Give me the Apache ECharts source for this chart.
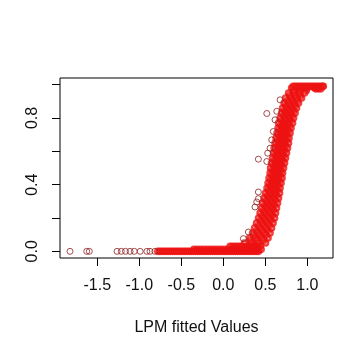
<!DOCTYPE html>
<html>
<head>
<meta charset="utf-8">
<script src="https://cdn.jsdelivr.net/npm/echarts@6/dist/echarts.min.js"></script>
<style>html,body{margin:0;padding:0;background:#fff;}#c{width:356px;height:356px;}</style>
</head>
<body>
<div id="c"></div>
<script>
// Dense band of points, read as strands across the band at given y levels
var yLevels = [0.98,0.95,0.92,0.89,0.86,0.83,0.80,0.77,0.74,0.71,0.68,0.65,0.62,0.59,0.56,0.53,0.50,0.47,0.44,0.41,0.38,0.35,0.32,0.29,0.26,0.23,0.20,0.17,0.14,0.11,0.08,0.05];
var xLeft  = [0.812,0.776,0.740,0.723,0.705,0.693,0.675,0.657,0.651,0.639,0.627,0.615,0.604,0.598,0.586,0.574,0.562,0.556,0.544,0.532,0.520,0.502,0.485,0.467,0.455,0.437,0.419,0.395,0.371,0.348,0.312,0.252];
var xMidL  = [0.903,0.840,0.804,0.780,0.760,0.747,0.729,0.713,0.703,0.691,0.679,0.669,0.657,0.649,0.637,0.626,0.614,0.606,0.596,0.584,0.572,0.558,0.542,0.526,0.514,0.498,0.483,0.461,0.439,0.417,0.385,0.335];
var xMidR  = [0.995,0.903,0.867,0.838,0.816,0.800,0.782,0.768,0.754,0.742,0.730,0.722,0.711,0.701,0.689,0.677,0.665,0.655,0.647,0.635,0.623,0.613,0.600,0.586,0.574,0.560,0.546,0.526,0.506,0.487,0.459,0.419];
var xRight = [1.086,0.967,0.931,0.895,0.871,0.854,0.836,0.824,0.806,0.794,0.782,0.776,0.764,0.752,0.740,0.729,0.717,0.705,0.699,0.687,0.675,0.669,0.657,0.645,0.633,0.621,0.610,0.592,0.574,0.556,0.532,0.502];

// second, staggered set of levels inside the band
var yLevels2 = [0.965,0.935,0.905,0.875,0.845,0.815,0.785,0.755,0.725,0.695,0.665,0.635,0.605,0.575,0.545,0.515,0.485,0.455,0.425,0.395,0.365,0.335,0.305,0.275,0.245,0.215,0.185,0.155,0.125,0.095,0.065];
var xInA = [0.833,0.790,0.762,0.742,0.726,0.711,0.693,0.681,0.671,0.659,0.647,0.637,0.627,0.618,0.606,0.594,0.584,0.575,0.564,0.552,0.538,0.522,0.505,0.491,0.476,0.459,0.439,0.416,0.394,0.366,0.321];
var xInB = [0.911,0.854,0.822,0.799,0.781,0.765,0.748,0.735,0.723,0.711,0.700,0.690,0.680,0.669,0.658,0.646,0.635,0.626,0.616,0.604,0.592,0.578,0.564,0.550,0.537,0.522,0.504,0.483,0.462,0.437,0.400];
var xInC = [0.988,0.917,0.883,0.855,0.836,0.818,0.803,0.788,0.774,0.762,0.753,0.743,0.732,0.720,0.709,0.697,0.686,0.677,0.667,0.655,0.645,0.635,0.622,0.609,0.597,0.585,0.569,0.550,0.531,0.508,0.478];

// top plateau rows
var topRowY = 0.99;
var topRowX = [0.83,0.855,0.88,0.905,0.93,0.955,0.98,1.005,1.03,1.055,1.08,1.105,1.13,1.155,1.18,1.19];
var topRow2Y = 0.975;
var topRow2X = [1.10,1.13,1.16];

// bottom tail rows
var bottomRow0Y = 0.0;
var bottomRow0X = [-0.78,-0.755,-0.73,-0.705,-0.68,-0.655,-0.63,-0.605,-0.58,-0.555,-0.53,-0.505,-0.48,-0.455,-0.43,-0.405,-0.38,-0.355,-0.33,-0.305,-0.28,-0.255,-0.23,-0.205,-0.18,-0.155,-0.13,-0.105,-0.08,-0.055,-0.03,-0.005,0.02,0.045,0.07,0.095,0.12,0.145,0.17,0.195,0.22,0.245,0.27,0.295,0.32,0.345,0.37,0.395,0.42];
var bottomRow1Y = 0.012;
var bottomRow1X = [-0.35,-0.31,-0.27,-0.23,-0.19,-0.15,-0.11,-0.07,-0.03,0.01,0.05,0.09,0.13,0.17,0.21,0.25,0.29,0.33,0.37,0.41,0.45];
var bottomRow2Y = 0.03;
var bottomRow2X = [0.08,0.11,0.14,0.17,0.20,0.23,0.26,0.29,0.32,0.35,0.38,0.41,0.44];

// isolated points
var outX = [-1.825,-1.626,-1.595,-1.265,-1.215,-1.165,-1.11,-1.06,-0.99,-0.91,-0.873,-0.815,0.517,0.417,0.675,0.636,0.615,0.595,0.576,0.556,0.528,0.517,0.417,0.397,0.377,0.417,0.238,0.298];
var outY = [0,0,0,0,0,0,0,0,0,0,0,0,0.827,0.553,0.909,0.84,0.789,0.719,0.669,0.619,0.589,0.539,0.356,0.296,0.266,0.316,0.076,0.116];

var xTicks = [-1.5,-1.0,-0.5,0.0,0.5,1.0];
var yTicks = [0.0,0.2,0.4,0.6,0.8,1.0];
var yLabels = [0.0,0.4,0.8];
var xName = 'LPM fitted Values';
var yName = 'y';

var dense = [];
for (var i = 0; i < yLevels.length; i++) {
  dense.push([xLeft[i], yLevels[i]], [xMidL[i], yLevels[i]], [xMidR[i], yLevels[i]], [xRight[i], yLevels[i]]);
}
for (var j = 0; j < yLevels2.length; j++) {
  dense.push([xInA[j], yLevels2[j]], [xInB[j], yLevels2[j]], [xInC[j], yLevels2[j]]);
}
topRowX.forEach(function (x) { dense.push([x, topRowY]); });
topRow2X.forEach(function (x) { dense.push([x, topRow2Y]); });
bottomRow0X.forEach(function (x) { dense.push([x, bottomRow0Y]); });
bottomRow1X.forEach(function (x) { dense.push([x, bottomRow1Y]); });
bottomRow2X.forEach(function (x) { dense.push([x, bottomRow2Y]); });
var sparse = outX.map(function (x, i) { return [x, outY[i]]; });

var font = 'Liberation Sans, Arial, sans-serif';
var chart = echarts.init(document.getElementById('c'), null, {renderer: 'canvas'});
chart.setOption({
  animation: false,
  backgroundColor: '#ffffff',
  grid: {left: 60, top: 78, width: 273, height: 180, outerBoundsMode: 'none', containLabel: false,
    show: true, borderColor: '#000', borderWidth: 1, backgroundColor: 'transparent'},
  xAxis: {
    type: 'value', min: -1.944, max: 1.305,
    name: xName, nameLocation: 'middle', nameGap: 62,
    nameTextStyle: {fontFamily: font, fontSize: 16, color: '#111'},
    axisLine: {show: false, onZero: false},
    axisTick: {show: true, inside: false, length: 8, customValues: xTicks, lineStyle: {color: '#000', width: 1}},
    axisLabel: {show: true, customValues: xTicks, margin: 20, fontFamily: font, fontSize: 16, color: '#111',
      formatter: function (v) { return Number(v).toFixed(1); }},
    splitLine: {show: false}
  },
  yAxis: {
    type: 'value', min: -0.04, max: 1.04,
    name: yName, nameLocation: 'middle', nameGap: 66, nameRotate: 90,
    nameTextStyle: {fontFamily: font, fontSize: 16, color: '#111'},
    axisLine: {show: false, onZero: false},
    axisTick: {show: true, inside: false, length: 8, customValues: yTicks, lineStyle: {color: '#000', width: 1}},
    axisLabel: {show: true, customValues: yLabels, rotate: 90, margin: 19, fontFamily: font, fontSize: 16, color: '#111',
      formatter: function (v) { return Number(v).toFixed(1); }},
    splitLine: {show: false}
  },
  series: [
    {type: 'scatter', data: dense, symbol: 'circle', symbolSize: 5,
      itemStyle: {color: 'rgba(255,255,255,0)', borderColor: '#ee1111', borderWidth: 2.6}},
    {type: 'scatter', data: sparse, symbol: 'circle', symbolSize: 6,
      itemStyle: {color: 'rgba(255,255,255,0)', borderColor: '#8e2222', borderWidth: 1}}
  ]
});
</script>
</body>
</html>
